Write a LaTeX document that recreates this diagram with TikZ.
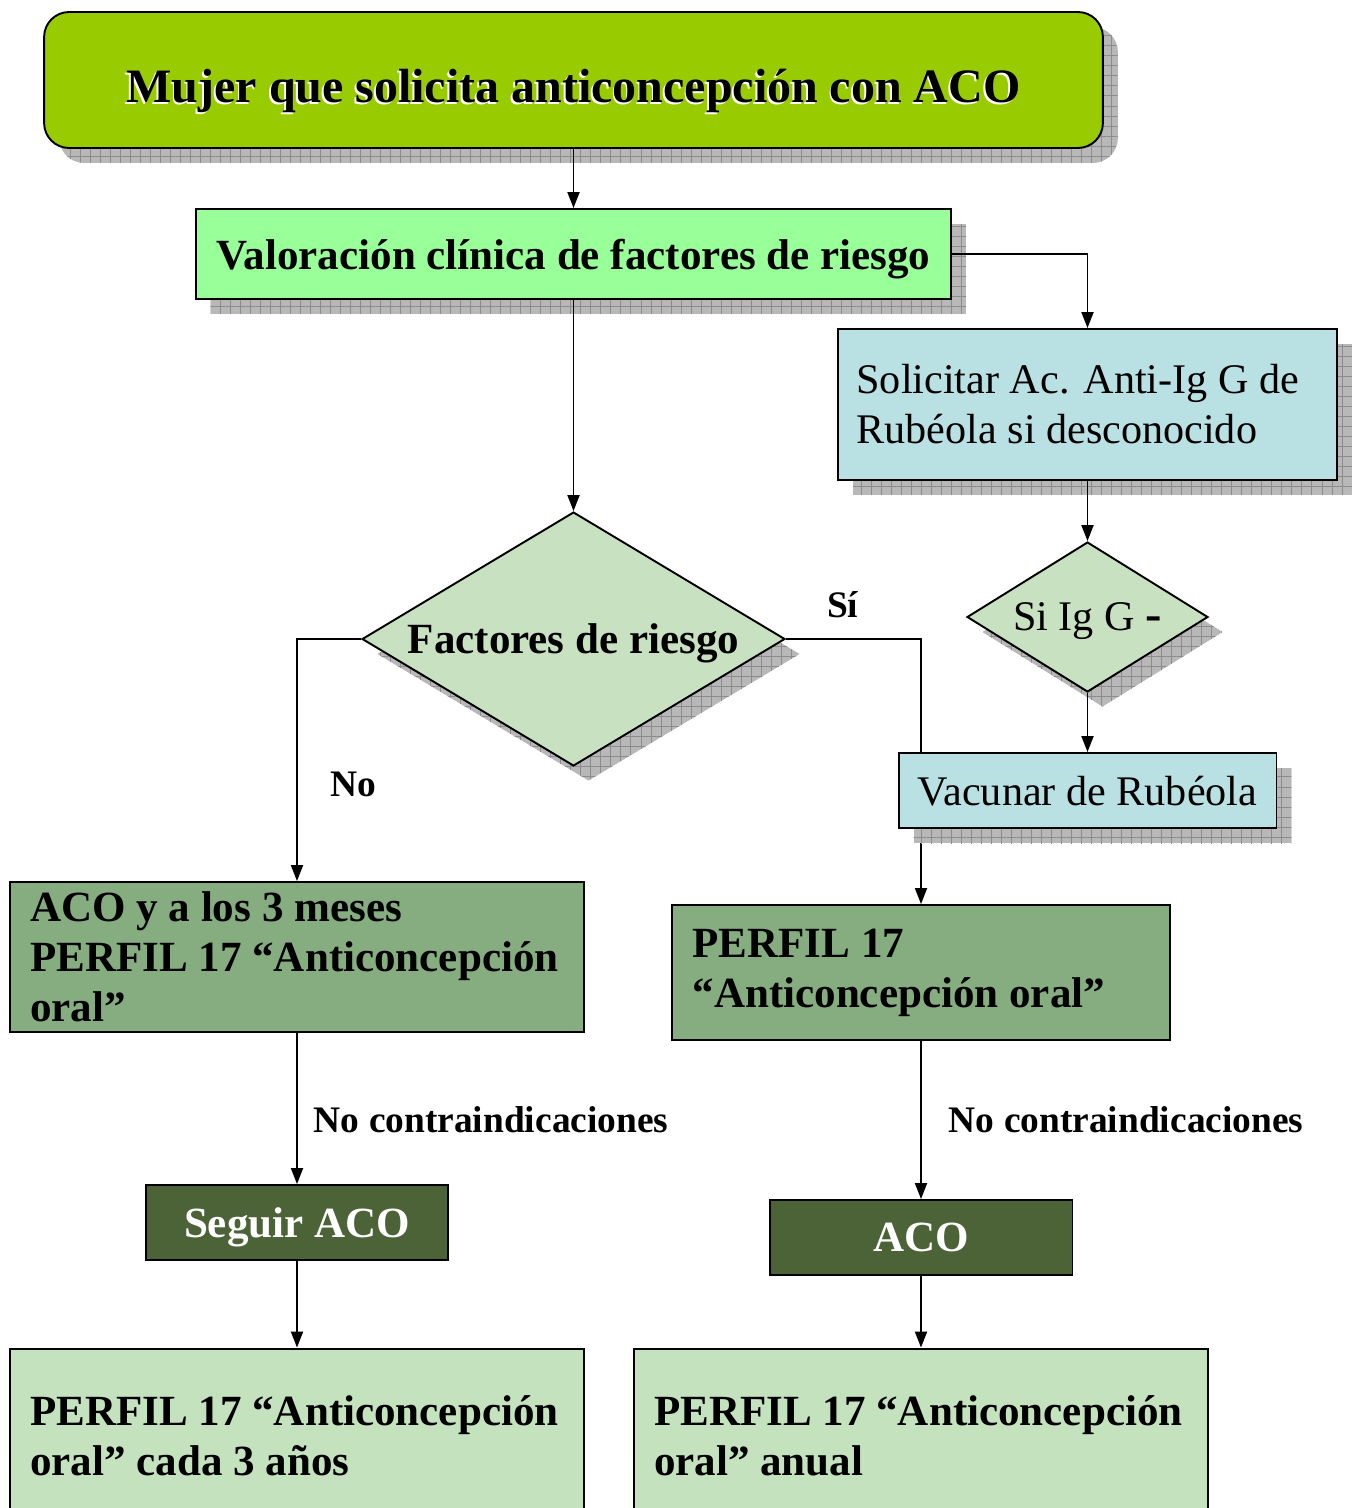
\documentclass[tikz,border=0pt]{standalone}
\usepackage{fontspec}
\setmainfont{Liberation Serif}
\usepackage {tikz}
\usetikzlibrary {positioning}
\usetikzlibrary{arrows.meta}
\usetikzlibrary{shapes.geometric}
\usetikzlibrary{shadows}
\usetikzlibrary{patterns.meta}
\definecolor{titlegreen}{HTML}{99CC00}
\definecolor{valgreen}{HTML}{99FF99}
\definecolor{rubblue}{HTML}{B9E0E3}
\definecolor{diagreen}{HTML}{C8E1C0}
\definecolor{midgreen}{HTML}{85AD80}
\definecolor{darkgreen}{HTML}{4B6337}
\definecolor{palegreen}{HTML}{C4E2BE}
\tikzset{edge/.style = {draw, line width=1.1pt, -{Triangle[length=0.32cm,width=0.24cm]}}}

\begin{document}
\begin{tikzpicture}[x=0.02cm, y=-0.02cm, line width=1.1pt,
  box/.style={rectangle, draw, line width=1.1pt, inner sep=0pt},
  shade box/.style={drop shadow={shadow xshift=0.3cm, shadow yshift=-0.3cm, fill=black!28, opacity=1,
    postaction={pattern={Lines[angle=0,distance=5.7pt,line width=0.5pt]}, pattern color=black!45},
    postaction={pattern={Lines[angle=90,distance=5.7pt,line width=0.5pt]}, pattern color=black!45}}},
  big/.style={font=\fontsize{24.5}{28.5}\selectfont\bfseries},
  plain/.style={font=\fontsize{24}{28.5}\selectfont},
  one line/.style={text depth=0pt},
  title text/.style={font=\fontsize{27.3}{32}\selectfont\bfseries, inner sep=0pt, text depth=0pt},
  lbl/.style={font=\fontsize{21.3}{24}\selectfont\bfseries, inner sep=0pt}]
\path[use as bounding box] (0,0) rectangle (1358,1508);
\clip (0,0) rectangle (1358,1508);

\node[box, rounded corners=0.5cm, fill=titlegreen, minimum width=21.18cm, minimum height=2.72cm, shade box] (top) at (573.5,80) {};
\node[title text, text=white] (topshade) at ([shift={(-0.035cm,-0.16cm)}]top.center) {Mujer que solicita anticoncepción con ACO};
\node[title text] (toptext) at ([yshift=-0.12cm]top.center) {Mujer que solicita anticoncepción con ACO};

\node[box, fill=valgreen, minimum width=15.12cm, minimum height=1.8cm, big, one line, shade box] (val) at (573.5,254) {Valoración clínica de factores de riesgo};
\node[box, fill=rubblue, minimum height=3.02cm, text width=9.24cm, inner xsep=0.37cm, align=flush left, plain, shade box] (sol) at (1087.5,404.5) {Solicitar Ac. Anti-Ig G de\\Rubéola si desconocido};
\node[diamond, draw, fill=diagreen, shape aspect=1.67, minimum width=8.46cm, minimum height=5.08cm, inner sep=0pt, big, one line, shade box] (fac) at (573.5,639) {Factores de riesgo};
\node[diamond, draw, fill=diagreen, shape aspect=1.6, minimum width=4.82cm, minimum height=3cm, inner sep=0pt, plain, one line, shade box] (sig) at (1087.5,617) {Si Ig G {\fontsize{28}{28}\selectfont\bfseries -}};

\node[box, fill=midgreen, text width=10.68cm, inner xsep=0.4cm, minimum height=3cm, align=flush left, big] (aco3) at (297,957) {ACO y a los 3 meses\\PERFIL 17 “Anticoncepción\\oral”};
\node[box, fill=midgreen, text width=9.14cm, inner xsep=0.42cm, minimum height=2.7cm, align=flush left, big] (per) at (921,972.5) {PERFIL 17\\“Anticoncepción oral”};
\node[box, fill=darkgreen, minimum width=6.04cm, minimum height=1.5cm, big, one line, text=white] (seg) at (297,1222.5) {Seguir ACO};
\node[box, fill=darkgreen, minimum width=6.06cm, minimum height=1.5cm, big, one line, text=white] (aco) at (921,1237.5) {ACO};
\node[box, fill=palegreen, text width=10.68cm, inner xsep=0.4cm, minimum height=3.5cm, align=flush left, big] (c3) at (297,1436) {PERFIL 17 “Anticoncepción\\oral” cada 3 años};
\node[box, fill=palegreen, text width=10.68cm, inner xsep=0.4cm, minimum height=3.5cm, align=flush left, big] (an) at (921,1436) {PERFIL 17 “Anticoncepción\\oral” anual};

% the Si branch runs behind the vaccination box
\draw[edge] (fac.east) -| node[lbl, pos=0.21, above=0.4cm] (si) {Sí} (per.north);
\node[box, fill=rubblue, minimum width=7.56cm, minimum height=1.5cm, plain, one line, shade box] (vac) at (1087.5,790.5) {Vacunar de Rubéola};

\draw[edge] (top) -- (val);
\draw[edge] (val.east) -| (sol.north);
\draw[edge] (val) -- (fac);
\draw[edge] (sol) -- (sig);
\draw[edge] (sig) -- (vac);
\draw[edge] (fac.west) -| node[lbl, pos=0.8, right=0.66cm] (no) {No} (aco3.north);
\draw[edge] (aco3) -- node[lbl, pos=0.575, right=0.32cm] (nocl) {No contraindicaciones} (seg);
\draw[edge] (per) -- node[lbl, pos=0.5, right=0.54cm] (nocr) {No contraindicaciones} (aco);
\draw[edge] (seg) -- (c3);
\draw[edge] (aco) -- (an);
\end{tikzpicture}
\end{document}
